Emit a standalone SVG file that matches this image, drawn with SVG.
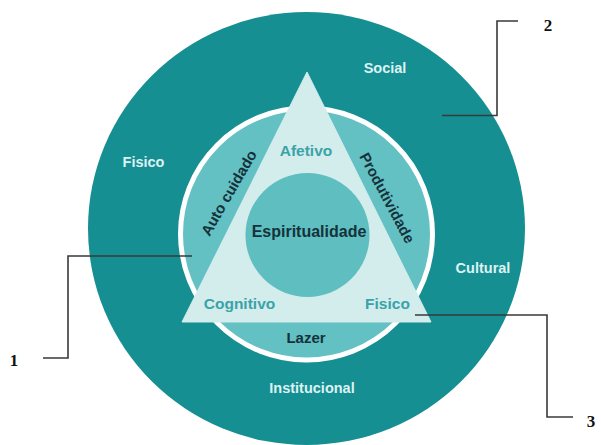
<svg xmlns="http://www.w3.org/2000/svg" width="601" height="445" viewBox="0 0 601 445">
<style>
text{font-family:"Liberation Sans",Arial,sans-serif;font-weight:bold;text-anchor:middle}
.outer{fill:#DDF2F2;font-size:14.5px}
.tri{fill:#3AA3A8;font-size:15.5px}
.dark{fill:#15323A;font-size:15px}
.num{font-family:"Liberation Serif","Times New Roman",serif;font-size:17px;fill:#111}
.call{fill:none;stroke:#3a3a3a;stroke-width:1.6}
</style>
<rect width="601" height="445" fill="#fff"/>
<g id="outer-ring">
<ellipse cx="306.5" cy="228.5" rx="218.5" ry="216.5" fill="#158F92"/>
<text class="outer" x="385" y="73">Social</text>
<text class="outer" x="143.5" y="167">Fisico</text>
<text class="outer" x="483" y="273">Cultural</text>
<text class="outer" x="312" y="393">Institucional</text>
</g>
<g id="inner-ring">
<circle cx="306.5" cy="234" r="126" fill="#63C0C3" stroke="#fff" stroke-width="5"/>
<text class="dark" transform="translate(229,193) rotate(-60)" y="5">Auto cuidado</text>
<text class="dark" transform="translate(387,198) rotate(62)" y="5">Produtividade</text>
<text class="dark" x="306" y="343">Lazer</text>
</g>
<g id="triangle">
<polygon points="307,72 182,322 431,322" fill="#D3ECEC" stroke="#D3ECEC" stroke-width="1" stroke-linejoin="round"/>
<text class="tri" x="306" y="156">Afetivo</text>
<text class="tri" x="239.5" y="309">Cognitivo</text>
<text class="tri" x="387.5" y="309">Fisico</text>
</g>
<g id="core">
<circle cx="307.5" cy="235" r="62" fill="#5EBEC0"/>
<text class="dark" style="font-size:16px" x="309" y="237">Espiritualidade</text>
</g>
<g id="connectors">
<polyline class="call" points="192,256 68,256 68,358 43,358"/>
<polyline class="call" points="442,115.5 497,115.5 497,21 518,21"/>
<polyline class="call" points="415,315 547,315 547,417 573,417"/>
</g>
<g id="labels">
<text class="num" x="14" y="366">1</text>
<text class="num" x="548" y="31">2</text>
<text class="num" x="591" y="427">3</text>
</g>
</svg>
